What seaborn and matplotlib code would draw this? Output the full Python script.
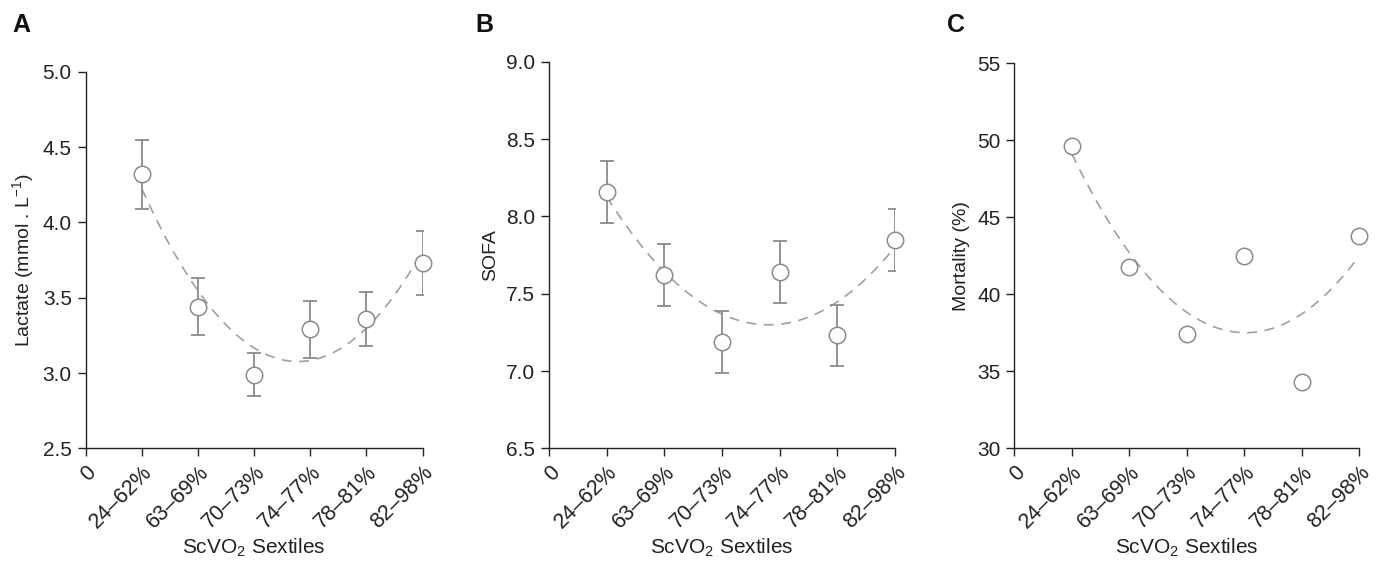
import numpy as np
import pandas as pd
import matplotlib
matplotlib.use("Agg")
import matplotlib.pyplot as plt
import seaborn as sns

categories = ["0", "24–62%", "63–69%", "70–73%", "74–77%", "78–81%", "82–98%"]
sextile_pos = [1, 2, 3, 4, 5, 6]

lactate = [4.32, 3.44, 2.99, 3.29, 3.36, 3.73]
lactate_err = [0.23, 0.19, 0.14, 0.19, 0.18, 0.21]

sofa = [8.16, 7.62, 7.19, 7.64, 7.23, 7.85]
sofa_err = [0.20, 0.20, 0.20, 0.20, 0.20, 0.20]

mortality = [49.6, 41.8, 37.4, 42.5, 34.3, 43.8]

sns.set_theme(style="ticks")
plt.rcParams["font.family"] = ["Liberation Sans", "DejaVu Sans"]
plt.rcParams["mathtext.fontset"] = "custom"
plt.rcParams["mathtext.rm"] = "Liberation Sans"
plt.rcParams["mathtext.it"] = "Liberation Sans:italic"

fig = plt.figure(figsize=(13.77, 5.65), dpi=100)

panels = [
    dict(rect=[0.0622, 0.2065, 0.2447, 0.6665], y=lactate, err=lactate_err,
         ylim=(2.5, 5.0), yticks=[2.5, 3.0, 3.5, 4.0, 4.5, 5.0], fmt="{:.1f}",
         ylabel="Lactate (mmol . L$^{-1}$)", letter="A", lx=0.009),
    dict(rect=[0.3987, 0.2065, 0.2513, 0.6842], y=sofa, err=sofa_err,
         ylim=(6.5, 9.0), yticks=[6.5, 7.0, 7.5, 8.0, 8.5, 9.0], fmt="{:.1f}",
         ylabel="SOFA", letter="B", lx=0.3455),
    dict(rect=[0.7366, 0.2065, 0.2505, 0.6814], y=mortality, err=None,
         ylim=(30, 55), yticks=[30, 35, 40, 45, 50, 55], fmt="{:.0f}",
         ylabel="Mortality (%)", letter="C", lx=0.688),
]

grey = "#8a8a8a"
for p in panels:
    ax = fig.add_axes(p["rect"])
    df = pd.DataFrame({"x": sextile_pos, "y": p["y"]})
    sns.regplot(data=df, x="x", y="y", order=2, ci=None, scatter=False, ax=ax,
                line_kws=dict(color="#a0a0a0", lw=1.2, dashes=(6, 4.5)))
    if p["err"] is not None:
        ax.errorbar(sextile_pos, p["y"], yerr=p["err"], fmt="none", ecolor=grey,
                    elinewidth=1.3, capsize=5, capthick=1.3, zorder=3)
    sns.scatterplot(data=df, x="x", y="y", ax=ax, s=140, marker="o",
                    facecolor="white", edgecolor=grey, linewidth=1.1, zorder=4,
                    clip_on=False)
    ax.set_xlim(0, 6)
    ax.set_ylim(*p["ylim"])
    ax.set_xticks(range(len(categories)))
    ax.set_xticklabels(categories, rotation=45, ha="right", rotation_mode="anchor",
                       fontsize=15.5)
    ax.set_yticks(p["yticks"])
    ax.set_yticklabels([p["fmt"].format(v) for v in p["yticks"]], fontsize=15)
    ax.tick_params(axis="both", direction="out", length=6, width=1, color="#222222",
                   labelcolor="#222222", pad=4)
    ax.set_xlabel("ScVO$_2$ Sextiles", fontsize=15, color="#222222", labelpad=3)
    ax.set_ylabel(p["ylabel"], fontsize=14, color="#222222", labelpad=5)
    for s in ["top", "right"]:
        ax.spines[s].set_visible(False)
    for s in ["left", "bottom"]:
        ax.spines[s].set_color("#222222")
        ax.spines[s].set_linewidth(1)
    fig.text(p["lx"], 0.956, p["letter"], fontsize=18, fontweight="bold",
             color="#111111", ha="left", va="center")

fig.savefig("out.png", dpi=100)
